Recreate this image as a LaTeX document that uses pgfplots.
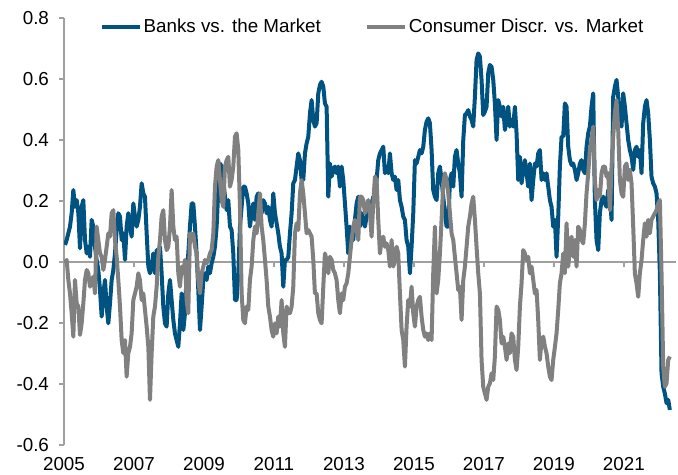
\documentclass[border=0pt]{standalone}
\usepackage{fontspec}
\setmainfont{Liberation Sans}
\usepackage{pgfplots}
\pgfplotsset{compat=1.18}
\usepackage{pgfplotstable}
\definecolor{bankblue}{RGB}{0,82,128}
\definecolor{cdgray}{RGB}{128,128,128}
\definecolor{axgray}{RGB}{160,160,160}

\pgfplotstableread{
year banks cons
2005.029 0.056 -0.004
2005.076 0.072 0.007
2005.124 0.094 -0.059
2005.171 0.116 -0.103
2005.219 0.160 -0.168
2005.267 0.236 -0.245
2005.314 0.181 -0.059
2005.362 0.203 -0.136
2005.410 0.160 -0.146
2005.457 0.045 -0.239
2005.505 0.181 -0.201
2005.552 0.203 -0.136
2005.600 0.072 -0.059
2005.648 0.028 -0.026
2005.695 0.050 -0.037
2005.743 0.017 -0.081
2005.790 0.138 -0.059
2005.838 0.116 -0.048
2005.886 0.050 -0.103
2005.933 0.007 0.116
2005.981 -0.026 0.072
2006.029 -0.092 0.028
2006.076 -0.179 0.017
2006.124 -0.103 -0.026
2006.171 -0.059 0.007
2006.219 -0.146 0.050
2006.267 -0.201 0.094
2006.314 -0.136 0.083
2006.362 -0.059 0.160
2006.410 -0.026 0.170
2006.457 0.028 0.072
2006.505 0.105 0.017
2006.552 0.160 -0.059
2006.600 0.149 -0.146
2006.648 0.072 -0.256
2006.695 0.094 -0.299
2006.743 0.007 -0.256
2006.790 0.116 -0.376
2006.838 0.160 -0.299
2006.886 0.116 -0.278
2006.933 0.083 -0.234
2006.981 0.192 -0.125
2007.029 0.149 -0.103
2007.076 0.116 -0.081
2007.124 0.138 -0.037
2007.171 0.181 -0.059
2007.219 0.258 -0.125
2007.267 0.225 -0.103
2007.314 0.214 -0.157
2007.362 0.094 -0.212
2007.410 -0.015 -0.278
2007.457 -0.037 -0.452
2007.505 -0.015 -0.299
2007.552 0.028 -0.179
2007.600 -0.037 -0.146
2007.648 0.039 -0.081
2007.695 -0.015 0.017
2007.743 0.050 0.072
2007.790 -0.037 0.149
2007.838 -0.146 0.170
2007.886 -0.201 0.072
2007.933 -0.212 0.039
2007.981 -0.103 0.050
2008.029 -0.059 0.116
2008.076 -0.125 0.236
2008.124 -0.190 0.116
2008.171 -0.234 0.072
2008.219 -0.256 0.083
2008.267 -0.278 -0.037
2008.314 -0.201 -0.081
2008.362 -0.103 -0.015
2008.410 -0.223 -0.037
2008.457 -0.168 0.007
2008.505 -0.037 -0.125
2008.552 0.028 -0.168
2008.600 0.116 0.094
2008.648 0.192 0.072
2008.695 0.192 0.094
2008.743 0.116 0.050
2008.790 0.028 0.028
2008.838 -0.092 -0.059
2008.886 -0.223 -0.103
2008.933 -0.146 -0.037
2008.981 -0.059 -0.015
2009.029 -0.037 0.007
2009.076 -0.059 -0.004
2009.124 -0.015 0.007
2009.171 -0.037 0.028
2009.219 -0.004 0.039
2009.267 0.017 0.094
2009.314 0.050 0.247
2009.362 0.116 0.313
2009.410 0.236 0.334
2009.457 0.323 0.269
2009.505 0.313 0.203
2009.552 0.269 0.181
2009.600 0.214 0.313
2009.648 0.170 0.334
2009.695 0.203 0.345
2009.743 0.116 0.247
2009.790 0.105 0.269
2009.838 0.028 0.313
2009.886 -0.125 0.411
2009.933 -0.125 0.422
2009.981 -0.037 0.367
2010.029 0.116 0.181
2010.076 0.181 -0.103
2010.124 0.247 -0.190
2010.171 0.247 -0.201
2010.219 0.225 -0.146
2010.267 0.192 -0.157
2010.314 0.116 -0.059
2010.362 0.160 -0.015
2010.410 0.192 0.072
2010.457 0.138 0.116
2010.505 0.214 0.094
2010.552 0.225 0.160
2010.600 0.192 0.225
2010.648 0.160 0.116
2010.695 0.203 0.072
2010.743 0.192 0.007
2010.790 0.160 -0.059
2010.838 0.181 -0.146
2010.886 0.138 -0.179
2010.933 0.116 -0.223
2010.981 0.225 -0.245
2011.029 0.160 -0.201
2011.076 0.127 -0.234
2011.124 0.094 -0.179
2011.171 0.050 -0.212
2011.219 0.028 -0.125
2011.267 -0.081 -0.234
2011.314 0.007 -0.278
2011.362 0.007 -0.146
2011.410 0.017 -0.168
2011.457 0.094 -0.168
2011.505 0.160 -0.146
2011.552 0.258 -0.081
2011.600 0.269 0.094
2011.648 0.313 0.127
2011.695 0.356 0.105
2011.743 0.334 0.225
2011.790 0.269 0.269
2011.838 0.269 0.225
2011.886 0.356 0.160
2011.933 0.389 0.094
2011.981 0.411 0.105
2012.029 0.487 0.094
2012.076 0.531 0.083
2012.124 0.466 0.007
2012.171 0.444 -0.103
2012.219 0.455 -0.103
2012.267 0.553 -0.168
2012.314 0.580 -0.190
2012.362 0.591 -0.201
2012.410 0.575 -0.081
2012.457 0.520 0.028
2012.505 0.509 0.007
2012.552 0.214 -0.037
2012.600 0.323 0.017
2012.648 0.280 0.007
2012.695 0.302 -0.026
2012.743 0.313 -0.037
2012.790 0.291 -0.059
2012.838 0.313 -0.125
2012.886 0.247 -0.168
2012.933 0.313 -0.103
2012.981 0.269 -0.125
2013.029 0.192 -0.081
2013.076 0.116 -0.070
2013.124 0.028 -0.037
2013.171 0.116 0.017
2013.219 0.072 0.072
2013.267 0.072 0.116
2013.314 0.138 0.138
2013.362 0.192 0.105
2013.410 0.214 0.072
2013.457 0.116 0.214
2013.505 0.160 0.214
2013.552 0.138 0.203
2013.600 0.116 0.160
2013.648 0.149 0.181
2013.695 0.170 0.203
2013.743 0.181 0.160
2013.790 0.192 0.083
2013.838 0.214 0.192
2013.886 0.203 0.280
2013.933 0.269 0.269
2013.981 0.334 0.138
2014.029 0.356 0.028
2014.076 0.367 0.072
2014.124 0.378 0.083
2014.171 0.291 0.050
2014.219 0.313 0.061
2014.267 0.291 0.039
2014.314 0.356 -0.015
2014.362 0.291 0.072
2014.410 0.269 -0.015
2014.457 0.280 0.007
2014.505 0.236 0.050
2014.552 0.269 0.028
2014.600 0.203 -0.103
2014.648 0.181 -0.223
2014.695 0.149 -0.256
2014.743 0.138 -0.343
2014.790 0.072 -0.212
2014.838 0.050 -0.125
2014.886 -0.037 -0.146
2014.933 0.050 -0.081
2014.981 0.160 -0.168
2015.029 0.334 -0.212
2015.076 0.323 -0.146
2015.124 0.345 -0.125
2015.171 0.367 -0.114
2015.219 0.356 -0.179
2015.267 0.378 -0.223
2015.314 0.433 -0.245
2015.362 0.460 -0.234
2015.410 0.471 -0.256
2015.457 0.455 -0.234
2015.505 0.367 -0.256
2015.552 0.236 -0.037
2015.600 0.214 0.116
2015.648 0.203 -0.103
2015.695 0.291 -0.059
2015.743 0.313 0.028
2015.790 0.269 0.138
2015.838 0.214 0.258
2015.886 0.160 0.291
2015.933 0.116 0.269
2015.981 0.116 0.225
2016.029 0.269 0.160
2016.076 0.291 0.094
2016.124 0.247 0.072
2016.171 0.345 0.017
2016.219 0.367 -0.037
2016.267 0.323 -0.092
2016.314 0.291 -0.081
2016.362 0.214 -0.190
2016.410 0.400 -0.059
2016.457 0.482 -0.015
2016.505 0.487 0.050
2016.552 0.498 0.116
2016.600 0.477 0.149
2016.648 0.466 0.192
2016.695 0.444 0.214
2016.743 0.542 0.138
2016.790 0.662 0.050
2016.838 0.684 -0.037
2016.886 0.673 -0.103
2016.933 0.597 -0.321
2016.981 0.482 -0.409
2017.029 0.493 -0.431
2017.076 0.509 -0.452
2017.124 0.619 -0.409
2017.171 0.646 -0.398
2017.219 0.640 -0.365
2017.267 0.597 -0.387
2017.314 0.520 -0.310
2017.362 0.400 -0.146
2017.410 0.531 -0.157
2017.457 0.509 -0.190
2017.505 0.477 -0.267
2017.552 0.509 -0.245
2017.600 0.433 -0.278
2017.648 0.466 -0.321
2017.695 0.509 -0.267
2017.743 0.444 -0.299
2017.790 0.466 -0.234
2017.838 0.444 -0.245
2017.886 0.509 -0.321
2017.933 0.422 -0.354
2017.981 0.269 -0.278
2018.029 0.345 -0.146
2018.076 0.258 -0.070
2018.124 0.302 0.039
2018.171 0.334 0.028
2018.219 0.291 0.007
2018.267 0.247 0.017
2018.314 0.323 -0.037
2018.362 0.203 -0.015
2018.410 0.269 -0.059
2018.457 0.323 -0.103
2018.505 0.313 -0.092
2018.552 0.356 -0.190
2018.600 0.367 -0.321
2018.648 0.269 -0.256
2018.695 0.291 -0.245
2018.743 0.269 -0.278
2018.790 0.291 -0.299
2018.838 0.247 -0.343
2018.886 0.203 -0.376
2018.933 0.181 -0.387
2018.981 0.116 -0.321
2019.029 0.138 -0.278
2019.076 0.017 -0.234
2019.124 0.149 -0.157
2019.171 0.313 -0.070
2019.219 0.411 -0.037
2019.267 0.411 0.028
2019.314 0.520 -0.037
2019.362 0.509 0.127
2019.410 0.378 -0.015
2019.457 0.334 0.050
2019.505 0.318 0.083
2019.552 0.323 0.017
2019.600 0.302 0.072
2019.648 0.269 -0.015
2019.695 0.291 0.116
2019.743 0.323 0.105
2019.790 0.334 0.072
2019.838 0.302 0.061
2019.886 0.291 0.127
2019.933 0.378 0.225
2019.981 0.422 0.291
2020.029 0.444 0.367
2020.076 0.509 0.400
2020.124 0.553 0.444
2020.171 0.203 0.269
2020.219 0.072 0.203
2020.267 0.039 0.236
2020.314 0.160 0.214
2020.362 0.203 0.291
2020.410 0.214 0.313
2020.457 0.192 0.313
2020.505 0.181 0.280
2020.552 0.236 0.291
2020.600 0.214 0.170
2020.648 0.138 0.313
2020.695 0.542 0.411
2020.743 0.575 0.487
2020.790 0.597 0.531
2020.838 0.542 0.433
2020.886 0.455 0.269
2020.933 0.444 0.225
2020.981 0.553 0.214
2021.029 0.509 0.313
2021.076 0.455 0.323
2021.124 0.400 0.269
2021.171 0.367 0.302
2021.219 0.345 0.258
2021.267 0.302 0.116
2021.314 0.367 -0.037
2021.362 0.378 -0.070
2021.410 0.345 -0.114
2021.457 0.367 -0.037
2021.505 0.291 0.007
2021.552 0.455 0.072
2021.600 0.509 0.127
2021.648 0.531 0.083
2021.695 0.487 0.138
2021.743 0.400 0.094
2021.790 0.280 0.138
2021.838 0.258 0.149
2021.886 0.247 0.160
2021.933 0.225 0.170
2021.981 0.138 0.192
2022.029 -0.037 0.203
2022.076 -0.365 -0.037
2022.124 -0.409 -0.343
2022.171 -0.431 -0.409
2022.219 -0.463 -0.398
2022.267 -0.452 -0.321
2022.314 -0.485 -0.310
}\datatable

\begin{document}
\begin{tikzpicture}
\path[use as bounding box] (0,0) rectangle (339pt,237.5pt);
\begin{axis}[
  at={(32pt,15pt)}, anchor=south west,
  scale only axis, width=306pt, height=213.5pt,
  xmin=2005, xmax=2022.49, ymin=-0.6, ymax=0.8,
  axis x line*=middle, axis y line*=left,
  hide obscured x ticks=false, hide obscured y ticks=false,
  axis line style={axgray, line width=0.8pt},
  every tick/.style={axgray, line width=0.8pt},
  tick align=outside, major tick length=2.5pt,
  xtick={2005,2007,...,2021},
  ytick={-0.6,-0.4,...,0.8},
  /pgf/number format/assume math mode=true,
  /pgf/number format/1000 sep={},
  yticklabel style={/pgf/number format/fixed, /pgf/number format/fixed zerofill, /pgf/number format/precision=1, anchor=east, xshift=-1.5pt},
  xticklabel style={anchor=center, yshift=-98.5pt},
  tick label style={font=\fontsize{9.4}{11}\selectfont, text=black},
  legend columns=2,
  legend style={draw=none, fill=none, at={(0.504,0.979)}, anchor=center,
    font=\fontsize{9.4}{11}\selectfont, inner sep=0pt,
    nodes={inner xsep=1pt, inner ysep=0pt},
    /tikz/every even column/.append style={column sep=21pt}},
  legend image code/.code={\draw[#1] (0pt,0pt) -- (19pt,0pt);},
  line join=round,
]
\addplot[bankblue, line width=2pt, line join=round] table[x=year, y=banks]{\datatable};
\addplot[cdgray, line width=2pt, line join=round] table[x=year, y=cons]{\datatable};
\legend{Banks vs. the Market, Consumer Discr. vs. Market}
\end{axis}
\end{tikzpicture}
\end{document}
